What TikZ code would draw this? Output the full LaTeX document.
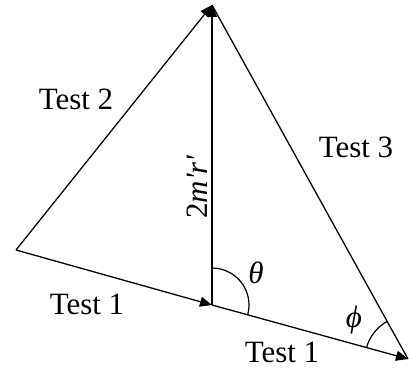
\documentclass[tikz,border=0pt]{standalone}
\usepackage{fontspec}
\setmainfont{Liberation Serif}
\newfontfamily\rawserif{Liberation Serif}
\usetikzlibrary{arrows.meta}
\begin{document}
\begin{tikzpicture}[x=1bp,y=1bp,
  vec/.style={line width=1.3bp,-{Triangle[length=12bp,width=10bp]}},
  thickvec/.style={line width=2bp,-{Triangle[length=12bp,width=10bp]}},
  lbl/.style={font=\rawserif\fontsize{31bp}{34bp}\selectfont,inner sep=0pt},
  angarc/.style={line width=1.2bp}]
\useasboundingbox (0,0) rectangle (409,372);
\coordinate (L) at (16,122);
\coordinate (M) at (212,67);
\coordinate (T) at (212,367);
\coordinate (R) at (408,13);
\draw[vec] (L) -- (M);
\draw[vec] (L) -- (T);
\draw[thickvec] (M) -- (T);
\draw[line width=1.3bp] (T) -- (R);
\draw[vec] (M) -- (R);
\draw[angarc] ([shift={(90:37)}]M) arc[start angle=90,end angle=-15.1,radius=37];
\draw[angarc] ([shift={(119:43)}]R) arc[start angle=119,end angle=164.9,radius=43];
\node[lbl] (t2) at (76,273) {Test 2};
\node[lbl] (t3) at (356,225) {Test 3};
\node[lbl] (t1a) at (87,68) {Test 1};
\node[lbl] (t1b) at (282,20) {Test 1};
\node[lbl,rotate=90] (mr) at (197,185) {2\textit{m'r'}};
\node[lbl] (th) at (256,99) {\textit{θ}};
\node[lbl] (ph) at (354,52) {\textit{ϕ}};
\end{tikzpicture}
\end{document}
